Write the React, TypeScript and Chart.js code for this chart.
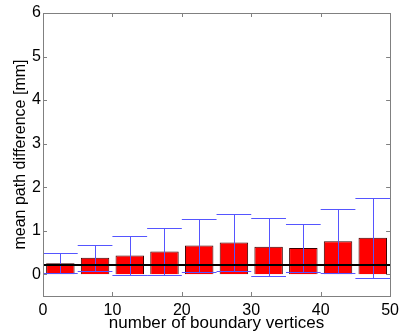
import React, { useEffect, useRef } from "react";
import { Chart, registerables } from "chart.js";

Chart.register(...registerables);

// Bin centres (number of boundary vertices) with mean and standard deviation
const BIN_CENTERS = [2.5, 7.5, 12.5, 17.5, 22.5, 27.5, 32.5, 37.5, 42.5, 47.5];
const MEAN_DIFF = [0.25, 0.38, 0.43, 0.52, 0.66, 0.73, 0.63, 0.6, 0.76, 0.84];
const STD_DIFF = [0.23, 0.3, 0.45, 0.54, 0.61, 0.66, 0.67, 0.55, 0.73, 0.92];
const REF_LEVEL = 0.21;

const X_TICKS = [0, 10, 20, 30, 40, 50];
const Y_TICKS = [0, 1, 2, 3, 4, 5, 6];

const FONT_FAMILY = "'Liberation Sans', Arial, Helvetica, sans-serif";
const AXIS_COLOR = "#808080";
const ERR_COLOR = "rgb(85,85,255)";
const CAP_HALF = 2.5; // in x units

const boxAndErrors = {
  id: "boxAndErrors",
  afterDatasetsDraw(chart: any) {
    const { ctx, chartArea, scales } = chart;
    const xs = scales.x;
    const ys = scales.y;
    ctx.save();
    ctx.beginPath();
    ctx.rect(chartArea.left, chartArea.top, chartArea.right - chartArea.left, chartArea.bottom - chartArea.top);
    ctx.clip();
    // error bars
    ctx.strokeStyle = ERR_COLOR;
    ctx.lineWidth = 1;
    BIN_CENTERS.forEach((cx, i) => {
      const lo = MEAN_DIFF[i] - STD_DIFF[i];
      const hi = MEAN_DIFF[i] + STD_DIFF[i];
      const px = Math.round(xs.getPixelForValue(cx)) + 0.5;
      const pLo = Math.round(ys.getPixelForValue(lo)) + 0.5;
      const pHi = Math.round(ys.getPixelForValue(hi)) + 0.5;
      const l = xs.getPixelForValue(cx - CAP_HALF);
      const r = xs.getPixelForValue(cx + CAP_HALF);
      ctx.beginPath();
      ctx.moveTo(px, pLo);
      ctx.lineTo(px, pHi);
      ctx.moveTo(l, pLo);
      ctx.lineTo(r, pLo);
      ctx.moveTo(l, pHi);
      ctx.lineTo(r, pHi);
      ctx.stroke();
    });
    // reference level
    const yr = ys.getPixelForValue(REF_LEVEL);
    ctx.strokeStyle = "#000";
    ctx.lineWidth = 2;
    ctx.beginPath();
    ctx.moveTo(chartArea.left, yr);
    ctx.lineTo(chartArea.right, yr);
    ctx.stroke();
    ctx.restore();
  },
  afterDraw(chart: any) {
    const { ctx, chartArea, scales } = chart;
    const { left, right, top, bottom } = chartArea;
    const tl = 4;
    ctx.save();
    ctx.strokeStyle = AXIS_COLOR;
    ctx.lineWidth = 1;
    ctx.strokeRect(Math.round(left) + 0.5, Math.round(top) + 0.5, Math.round(right - left), Math.round(bottom - top));
    ctx.beginPath();
    X_TICKS.forEach((v) => {
      const p = Math.round(scales.x.getPixelForValue(v)) + 0.5;
      ctx.moveTo(p, bottom);
      ctx.lineTo(p, bottom - tl);
      ctx.moveTo(p, top);
      ctx.lineTo(p, top + tl);
    });
    Y_TICKS.forEach((v) => {
      const p = Math.round(scales.y.getPixelForValue(v)) + 0.5;
      ctx.moveTo(left, p);
      ctx.lineTo(left + tl, p);
      ctx.moveTo(right, p);
      ctx.lineTo(right - tl, p);
    });
    ctx.stroke();
    ctx.restore();
  },
};

export default function App() {
  const canvasRef = useRef<HTMLCanvasElement | null>(null);

  useEffect(() => {
    const canvas = canvasRef.current;
    if (!canvas) return;
    const chart = new Chart(canvas, {
      type: "bar",
      data: {
        datasets: [
          {
            data: BIN_CENTERS.map((x, i) => ({ x, y: MEAN_DIFF[i] })),
            backgroundColor: "#ff0000",
            borderColor: "#3a0000",
            borderWidth: 1,
            barPercentage: 0.82,
            categoryPercentage: 1,
          },
        ],
      },
      options: {
        responsive: false,
        animation: false,
        devicePixelRatio: 1,
        layout: { padding: { left: 0, top: 13, right: 11, bottom: 0 } },
        plugins: {
          legend: { display: false },
          tooltip: { enabled: false },
        },
        scales: {
          x: {
            type: "linear",
            min: 0,
            max: 50,
            offset: false,
            afterBuildTicks: (s: any) => {
              s.ticks = X_TICKS.map((value) => ({ value }));
            },
            afterFit: (s: any) => {
              s.height = 38;
            },
            grid: { display: false, drawTicks: false },
            border: { display: false },
            ticks: {
              color: "#000",
              padding: 5,
              maxRotation: 0,
              font: { family: FONT_FAMILY, size: 16 },
            },
            title: {
              display: true,
              text: "number of boundary vertices",
              color: "#000",
              font: { family: FONT_FAMILY, size: 17 },
              padding: { top: 0, bottom: 0 },
            },
          },
          y: {
            type: "linear",
            min: -0.5,
            max: 6,
            afterBuildTicks: (s: any) => {
              s.ticks = Y_TICKS.map((value) => ({ value }));
            },
            afterFit: (s: any) => {
              s.width = 43;
            },
            grid: { display: false, drawTicks: false },
            border: { display: false },
            ticks: {
              color: "#000",
              padding: 2,
              font: { family: FONT_FAMILY, size: 16 },
            },
            title: {
              display: true,
              text: "mean path difference [mm]",
              color: "#000",
              font: { family: FONT_FAMILY, size: 16 },
              padding: { top: 11, bottom: 0 },
            },
          },
        },
      },
      plugins: [boxAndErrors],
    });
    return () => chart.destroy();
  }, []);

  return (
    <div style={{ position: "fixed", left: 0, top: 0, width: 404, height: 334, background: "#fff" }}>
      <canvas ref={canvasRef} width={404} height={334} style={{ display: "block" }} />
    </div>
  );
}
